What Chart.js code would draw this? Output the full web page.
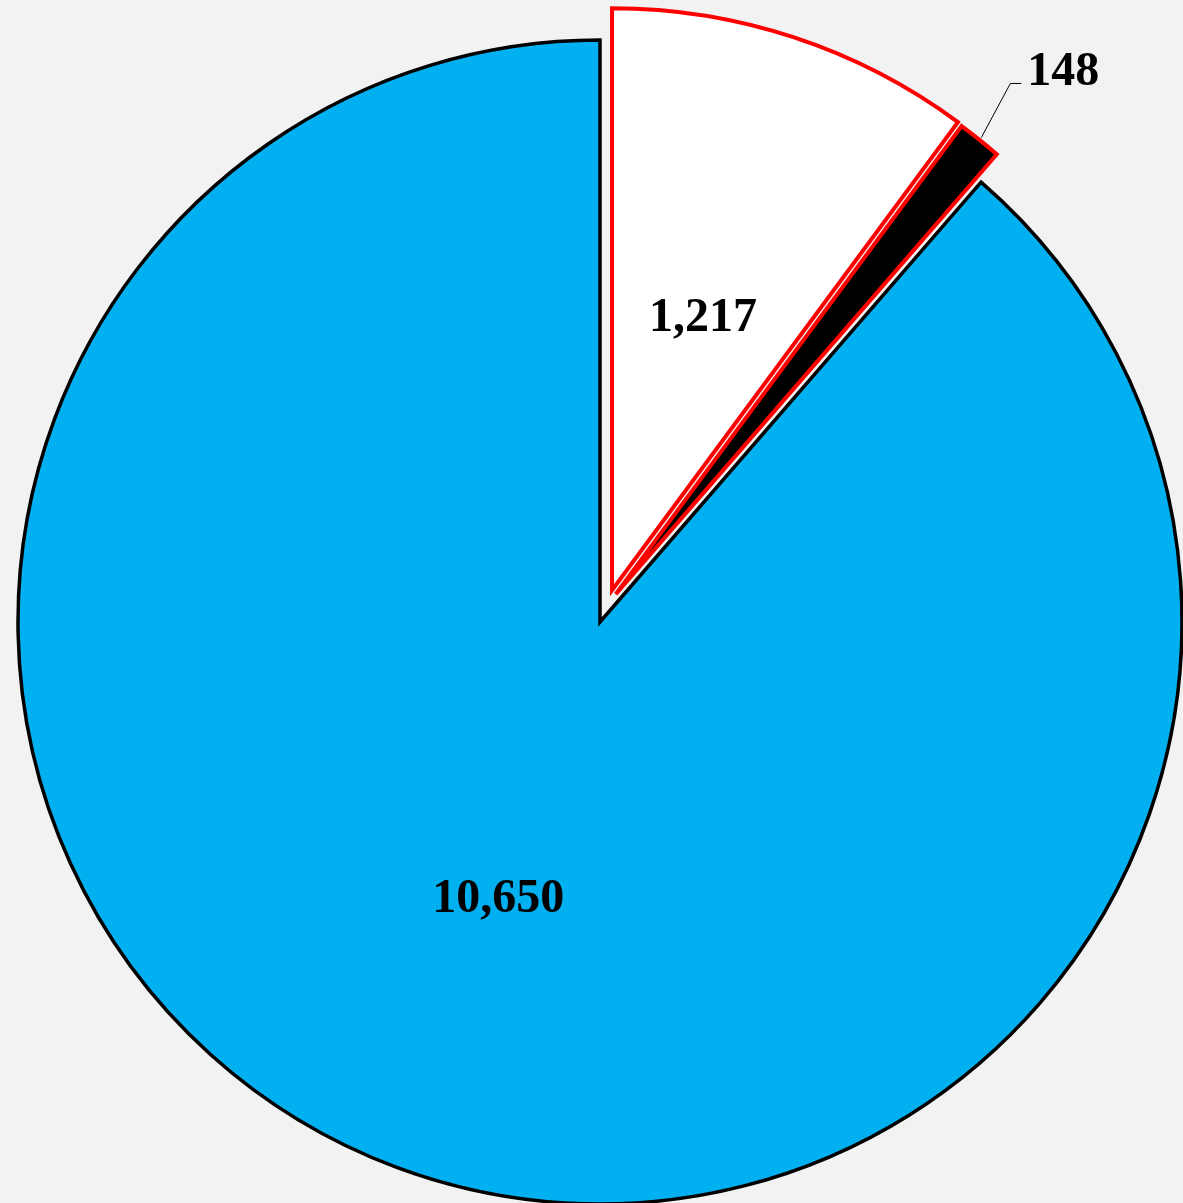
<!DOCTYPE html>
<html>
<head>
<meta charset="utf-8">
<script src="https://cdn.jsdelivr.net/npm/chart.js@4.4.0/dist/chart.umd.min.js"></script>
<style>
  html, body { margin: 0; padding: 0; background: #F2F2F2; }
  #pie { display: block; }
</style>
</head>
<body>
<canvas id="pie" width="1183" height="1203"></canvas>
<script>
const labels = ["A", "B", "C"];
const values = [1217, 148, 10650];
const valueText = ["1,217", "148", "10,650"];
const fillColors = ["#FFFFFF", "#000000", "#00B0F0"];
const edgeColors = ["#FF0000", "#FF0000", "#000000"];
const edgeWidths = [4, 4, 3.5];
const explodeDist = [34, 32, 0];
const explodeTurn = [2.5, -9.2, 0]; // degrees away from the slice middle

function midOf(arc) {
  const p = arc.getProps(["x", "y", "startAngle", "endAngle", "outerRadius"], true);
  p.mid = (p.startAngle + p.endAngle) / 2;
  return p;
}

function shiftOf(arc, i) {
  const p = midOf(arc);
  const a = p.mid + explodeTurn[i] * Math.PI / 180;
  return { dx: Math.cos(a) * explodeDist[i], dy: Math.sin(a) * explodeDist[i], p };
}

// pulls slices out of the pie by a fixed distance (Chart.js offset also grows the radius)
const explodePlugin = {
  id: "explode",
  afterUpdate(chart) {
    chart.getDatasetMeta(0).data.forEach((arc, i) => {
      if (arc._wrapped) return;
      const orig = arc.draw;
      arc.draw = function (ctx, area) {
        const s = shiftOf(this, i);
        ctx.save();
        ctx.translate(s.dx, s.dy);
        orig.call(this, ctx, area);
        ctx.restore();
      };
      arc._wrapped = true;
    });
  }
};

// value text, 148 gets a leader line outside the pie
const labelPlugin = {
  id: "pieLabels",
  afterDatasetsDraw(chart) {
    const ctx = chart.ctx;
    const arcs = chart.getDatasetMeta(0).data;
    ctx.save();
    ctx.font = "bold 48px 'Liberation Serif', 'Times New Roman', serif";
    ctx.fillStyle = "#000000";
    ctx.textBaseline = "alphabetic";
    arcs.forEach((arc, i) => {
      const s = shiftOf(arc, i);
      const p = s.p;
      const cx = p.x + s.dx;
      const cy = p.y + s.dy;
      if (i === 1) {
        const r = p.outerRadius + 3;
        const ax = cx + Math.cos(p.mid) * r;
        const ay = cy + Math.sin(p.mid) * r;
        const ex = ax + 29, ey = ay - 54;
        ctx.strokeStyle = "#000000";
        ctx.lineWidth = 1;
        ctx.beginPath();
        ctx.moveTo(ax, ay);
        ctx.lineTo(ex, ey);
        ctx.lineTo(ex + 11, ey);
        ctx.stroke();
        ctx.textAlign = "left";
        ctx.fillText(valueText[i], ex + 17, ey + 2);
      } else {
        const r = p.outerRadius * 0.5;
        ctx.textAlign = "center";
        ctx.fillText(valueText[i], cx + Math.cos(p.mid) * r, cy + Math.sin(p.mid) * r + 17);
      }
    });
    ctx.restore();
  }
};

new Chart(document.getElementById("pie"), {
  type: "pie",
  data: {
    labels: labels,
    datasets: [{
      data: values,
      backgroundColor: fillColors,
      borderColor: edgeColors,
      borderWidth: edgeWidths,
      borderJoinStyle: "miter",
      radius: 582
    }]
  },
  options: {
    responsive: false,
    animation: false,
    layout: { padding: { left: 17, right: 0, top: 41, bottom: 0 } },
    plugins: {
      legend: { display: false },
      tooltip: { enabled: false }
    }
  },
  plugins: [explodePlugin, labelPlugin]
});
</script>
</body>
</html>
